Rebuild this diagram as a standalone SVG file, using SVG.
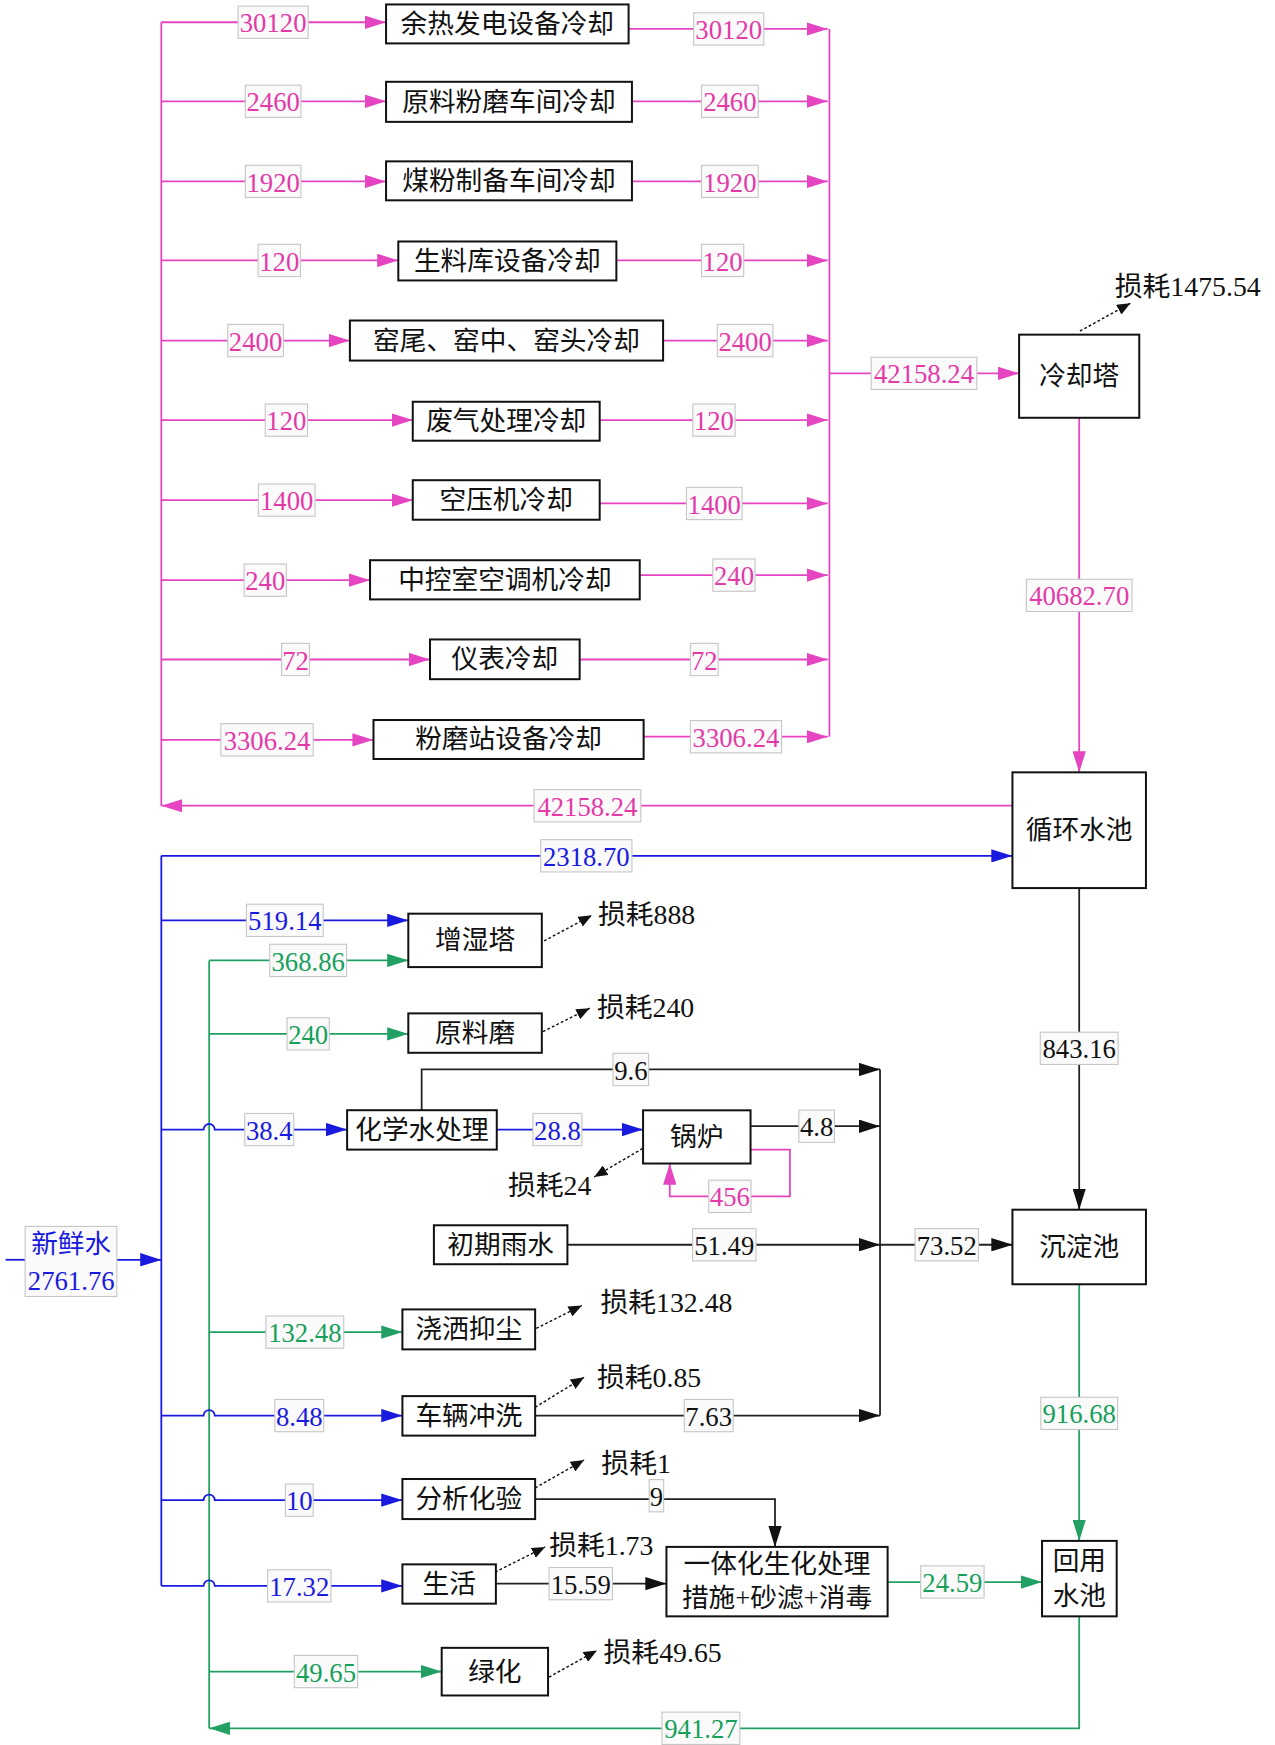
<svg xmlns="http://www.w3.org/2000/svg" width="1275" height="1745" viewBox="0 0 1275 1745">
<defs>
<style>
.nb{fill:#fff;stroke:#111;stroke-width:1.8}
.nt{font-family:"Liberation Serif","Noto Sans CJK SC",serif;font-size:24px;fill:#111;text-anchor:middle;dominant-baseline:central}
.lb{fill:#fafafa;stroke:#c6c6c6;stroke-width:1}
.lt{font-family:"Liberation Serif","Noto Sans CJK SC",serif;font-size:24px;text-anchor:middle;dominant-baseline:central}
.ls{font-family:"Liberation Serif","Noto Sans CJK SC",serif;font-size:25px;fill:#111;dominant-baseline:central}
.c{fill:none;stroke-width:1.6}
.pk{stroke:#e545c0}.bl{stroke:#1a1adf}.gr{stroke:#22a064}.bk{stroke:#222}
.dt{fill:none;stroke:#111;stroke-width:1.3;stroke-dasharray:2.5 2}
.tpk{fill:#e33aa8}.tbl{fill:#1a1adf}.tgr{fill:#16a05c}.tbk{fill:#111}
</style>
<marker id="ap" markerUnits="userSpaceOnUse" markerWidth="19" markerHeight="12" refX="19" refY="6" orient="auto" viewBox="0 0 19 12"><path d="M0,0 L19,6 L0,12 z" fill="#e545c0"/></marker>
<marker id="ab" markerUnits="userSpaceOnUse" markerWidth="19" markerHeight="12" refX="19" refY="6" orient="auto" viewBox="0 0 19 12"><path d="M0,0 L19,6 L0,12 z" fill="#1a1adf"/></marker>
<marker id="ag" markerUnits="userSpaceOnUse" markerWidth="19" markerHeight="12" refX="19" refY="6" orient="auto" viewBox="0 0 19 12"><path d="M0,0 L19,6 L0,12 z" fill="#22a064"/></marker>
<marker id="ak" markerUnits="userSpaceOnUse" markerWidth="19" markerHeight="12" refX="19" refY="6" orient="auto" viewBox="0 0 19 12"><path d="M0,0 L19,6 L0,12 z" fill="#111"/></marker>
<marker id="ad" markerUnits="userSpaceOnUse" markerWidth="12" markerHeight="10" refX="12" refY="5" orient="auto" viewBox="0 0 12 10"><path d="M0,0 L12,5 L0,10 z" fill="#111"/></marker>
</defs>
<rect width="1275" height="1745" fill="#fff"/>
<g transform="scale(1.11257,1.11288)">
<g id="connectors">
<path class="c pk" d="M145,20 V724"/>
<path class="c pk" d="M745.5,26 V662"/>
<path class="c pk" d="M145,20 H347" marker-end="url(#ap)"/>
<path class="c pk" d="M565,26 H744" marker-end="url(#ap)"/>
<path class="c pk" d="M145,91 H347" marker-end="url(#ap)"/>
<path class="c pk" d="M568,91 H744" marker-end="url(#ap)"/>
<path class="c pk" d="M145,163 H347" marker-end="url(#ap)"/>
<path class="c pk" d="M568,163 H744" marker-end="url(#ap)"/>
<path class="c pk" d="M145,234 H358" marker-end="url(#ap)"/>
<path class="c pk" d="M554,234 H744" marker-end="url(#ap)"/>
<path class="c pk" d="M145,306 H314.5" marker-end="url(#ap)"/>
<path class="c pk" d="M596,306 H744" marker-end="url(#ap)"/>
<path class="c pk" d="M145,377.5 H371" marker-end="url(#ap)"/>
<path class="c pk" d="M539,377.5 H744" marker-end="url(#ap)"/>
<path class="c pk" d="M145,449.4 H371" marker-end="url(#ap)"/>
<path class="c pk" d="M539,452.4 H744" marker-end="url(#ap)"/>
<path class="c pk" d="M145,521.3 H332.6" marker-end="url(#ap)"/>
<path class="c pk" d="M575,516.8 H744" marker-end="url(#ap)"/>
<path class="c pk" d="M145,592.6 H386.5" marker-end="url(#ap)"/>
<path class="c pk" d="M521,592.6 H744" marker-end="url(#ap)"/>
<path class="c pk" d="M145,664.8 H335.7" marker-end="url(#ap)"/>
<path class="c pk" d="M578.5,662 H744" marker-end="url(#ap)"/>
<path class="c pk" d="M745.5,335.5 H916" marker-end="url(#ap)"/>
<path class="c pk" d="M970,375.4 V694" marker-end="url(#ap)"/>
<path class="c pk" d="M910,724 H145" marker-end="url(#ap)"/>
<path class="dt" d="M970.7,297.5 L1016,272.5" marker-end="url(#ad)"/>
<path class="c bl" d="M145,769 H910" marker-end="url(#ab)"/>
<path class="c bk" d="M970,798 V1087" marker-end="url(#ak)"/>
<path class="c bl" d="M5,1132 H22.6"/>
<path class="c bl" d="M105,1132 H145" marker-end="url(#ab)"/>
<path class="c bl" d="M145,769 V1425"/>
<path class="c gr" d="M188,863 V1553"/>
<path class="c bl" d="M145,827 H367" marker-end="url(#ab)"/>
<path class="c bl" d="M145,1015 H183 A5,5 0 0 1 193,1015 H312" marker-end="url(#ab)"/>
<path class="c bl" d="M145,1272 H183 A5,5 0 0 1 193,1272 H361.7" marker-end="url(#ab)"/>
<path class="c bl" d="M145,1348 H183 A5,5 0 0 1 193,1348 H361.7" marker-end="url(#ab)"/>
<path class="c bl" d="M145,1425 H183 A5,5 0 0 1 193,1425 H361.7" marker-end="url(#ab)"/>
<path class="c gr" d="M188,863 H367" marker-end="url(#ag)"/>
<path class="c gr" d="M188,929 H367" marker-end="url(#ag)"/>
<path class="c gr" d="M188,1197 H361.7" marker-end="url(#ag)"/>
<path class="c gr" d="M188,1502 H397" marker-end="url(#ag)"/>
<path class="c gr" d="M970,1452.4 V1553 H188" marker-end="url(#ag)"/>
<path class="c bk" d="M791,961 V1272"/>
<path class="c bk" d="M379,997.6 V961 H791" marker-end="url(#ak)"/>
<path class="c bl" d="M446.5,1015 H578" marker-end="url(#ab)"/>
<path class="c bk" d="M674.6,1012 H791" marker-end="url(#ak)"/>
<path class="c pk" d="M674.6,1033 H710 V1075 H602 V1045.5" marker-end="url(#ap)"/>
<path class="c bk" d="M510,1118.5 H791" marker-end="url(#ak)"/>
<path class="c bk" d="M791,1118.5 H910" marker-end="url(#ak)"/>
<path class="c bk" d="M481,1272 H791" marker-end="url(#ak)"/>
<path class="c bk" d="M481,1347 H696.6 V1390" marker-end="url(#ak)"/>
<path class="c bk" d="M445.7,1423 H599" marker-end="url(#ak)"/>
<path class="c gr" d="M797.8,1421.6 H936.6" marker-end="url(#ag)"/>
<path class="c gr" d="M970,1154 V1384.6" marker-end="url(#ag)"/>
<path class="dt" d="M577.6,1032 L534,1057.6" marker-end="url(#ad)"/>
<path class="dt" d="M489,845.5 L532,822.5" marker-end="url(#ad)"/>
<path class="dt" d="M488,927 L530,906" marker-end="url(#ad)"/>
<path class="dt" d="M482,1193.6 L523,1173" marker-end="url(#ad)"/>
<path class="dt" d="M481,1264.5 L525,1237.6" marker-end="url(#ad)"/>
<path class="dt" d="M481,1337 L525,1312" marker-end="url(#ad)"/>
<path class="dt" d="M445,1412.6 L490,1390" marker-end="url(#ad)"/>
<path class="dt" d="M493.4,1507 L536.6,1483" marker-end="url(#ad)"/>
</g>
<g id="labels">
<rect class="lb" x="214" y="5.5" width="63" height="29"/><text class="lt tpk" x="245.5" y="21">30120</text>
<rect class="lb" x="623.5" y="11.5" width="63" height="29"/><text class="lt tpk" x="655" y="27">30120</text>
<rect class="lb" x="220.5" y="76.5" width="50" height="29"/><text class="lt tpk" x="245.5" y="92">2460</text>
<rect class="lb" x="630.5" y="76.5" width="51" height="29"/><text class="lt tpk" x="656" y="92">2460</text>
<rect class="lb" x="220.5" y="148.5" width="50" height="29"/><text class="lt tpk" x="245.5" y="164">1920</text>
<rect class="lb" x="630.5" y="148.5" width="51" height="29"/><text class="lt tpk" x="656" y="164">1920</text>
<rect class="lb" x="232" y="219.5" width="38" height="29"/><text class="lt tpk" x="251" y="235">120</text>
<rect class="lb" x="630.5" y="219.5" width="38" height="29"/><text class="lt tpk" x="649.5" y="235">120</text>
<rect class="lb" x="204.7" y="291.5" width="50" height="29"/><text class="lt tpk" x="229.7" y="307">2400</text>
<rect class="lb" x="644.7" y="291.5" width="50" height="29"/><text class="lt tpk" x="669.7" y="307">2400</text>
<rect class="lb" x="238.4" y="363" width="38" height="29"/><text class="lt tpk" x="257.4" y="378.5">120</text>
<rect class="lb" x="622.7" y="363" width="38" height="29"/><text class="lt tpk" x="641.7" y="378.5">120</text>
<rect class="lb" x="232.2" y="434.9" width="51" height="29"/><text class="lt tpk" x="257.7" y="450.4">1400</text>
<rect class="lb" x="617" y="437.9" width="50" height="29"/><text class="lt tpk" x="642" y="453.4">1400</text>
<rect class="lb" x="219.4" y="506.8" width="38" height="29"/><text class="lt tpk" x="238.4" y="522.3">240</text>
<rect class="lb" x="640.7" y="502.3" width="38" height="29"/><text class="lt tpk" x="659.7" y="517.8">240</text>
<rect class="lb" x="253.1" y="578.1" width="25" height="29"/><text class="lt tpk" x="265.6" y="593.6">72</text>
<rect class="lb" x="620.5" y="578.1" width="25" height="29"/><text class="lt tpk" x="633" y="593.6">72</text>
<rect class="lb" x="198.5" y="650.3" width="83" height="29"/><text class="lt tpk" x="240" y="665.8">3306.24</text>
<rect class="lb" x="620.5" y="647.5" width="82" height="29"/><text class="lt tpk" x="661.5" y="663">3306.24</text>
<rect class="lb" x="783" y="321" width="95" height="29"/><text class="lt tpk" x="830.5" y="336.5">42158.24</text>
<rect class="lb" x="922.5" y="520.5" width="95" height="29"/><text class="lt tpk" x="970" y="536">40682.70</text>
<rect class="lb" x="480" y="709.5" width="96" height="29"/><text class="lt tpk" x="528" y="725">42158.24</text>
<rect class="lb" x="486" y="754.5" width="82" height="29"/><text class="lt tbl" x="527" y="770">2318.70</text>
<rect class="lb" x="935" y="927.5" width="70" height="29"/><text class="lt tbk" x="970" y="943">843.16</text>
<rect class="lb" x="221.5" y="812.5" width="69" height="29"/><text class="lt tbl" x="256" y="828">519.14</text>
<rect class="lb" x="242.5" y="848.5" width="69" height="29"/><text class="lt tgr" x="277" y="864">368.86</text>
<rect class="lb" x="258" y="914.5" width="38" height="29"/><text class="lt tgr" x="277" y="930">240</text>
<rect class="lb" x="220" y="1000.5" width="44" height="29"/><text class="lt tbl" x="242" y="1016">38.4</text>
<rect class="lb" x="551" y="946.5" width="32" height="29"/><text class="lt tbk" x="567" y="962">9.6</text>
<rect class="lb" x="479" y="1000.5" width="44" height="29"/><text class="lt tbl" x="501" y="1016">28.8</text>
<rect class="lb" x="718" y="997.5" width="32" height="29"/><text class="lt tbk" x="734" y="1013">4.8</text>
<rect class="lb" x="637" y="1060.5" width="38" height="29"/><text class="lt tpk" x="656" y="1076">456</text>
<rect class="lb" x="622.5" y="1104" width="57" height="29"/><text class="lt tbk" x="651" y="1119.5">51.49</text>
<rect class="lb" x="822.5" y="1104" width="57" height="29"/><text class="lt tbk" x="851" y="1119.5">73.52</text>
<rect class="lb" x="239" y="1182.5" width="70" height="29"/><text class="lt tgr" x="274" y="1198">132.48</text>
<rect class="lb" x="247" y="1257.5" width="44" height="29"/><text class="lt tbl" x="269" y="1273">8.48</text>
<rect class="lb" x="615" y="1257.5" width="44" height="29"/><text class="lt tbk" x="637" y="1273">7.63</text>
<rect class="lb" x="256.5" y="1333.5" width="25" height="29"/><text class="lt tbl" x="269" y="1349">10</text>
<rect class="lb" x="583.5" y="1329.5" width="13" height="29"/><text class="lt tbk" x="590" y="1345">9</text>
<rect class="lb" x="240.5" y="1410.5" width="57" height="29"/><text class="lt tbl" x="269" y="1426">17.32</text>
<rect class="lb" x="493.5" y="1408.5" width="57" height="29"/><text class="lt tbk" x="522" y="1424">15.59</text>
<rect class="lb" x="827.5" y="1407" width="57" height="29"/><text class="lt tgr" x="856" y="1422.5">24.59</text>
<rect class="lb" x="935.5" y="1255.5" width="69" height="29"/><text class="lt tgr" x="970" y="1271">916.68</text>
<rect class="lb" x="264.5" y="1487.5" width="57" height="29"/><text class="lt tgr" x="293" y="1503">49.65</text>
<rect class="lb" x="595" y="1538.5" width="70" height="29"/><text class="lt tgr" x="630" y="1554">941.27</text>
<text class="ls" x="1002" y="257">损耗1475.54</text>
<text class="ls" x="537.5" y="822">损耗888</text>
<text class="ls" x="536.6" y="905">损耗240</text>
<text class="ls" x="456.6" y="1065">损耗24</text>
<text class="ls" x="539.7" y="1170">损耗132.48</text>
<text class="ls" x="536.6" y="1237.7">损耗0.85</text>
<text class="ls" x="540.5" y="1315">损耗1</text>
<text class="ls" x="493.6" y="1388.6">损耗1.73</text>
<text class="ls" x="542.5" y="1484.5">损耗49.65</text>
</g>
<g id="n-fresh"><rect class="lb" x="22.6" y="1102" width="82.4" height="63"/><text class="nt tbl" x="64" y="1118">新鲜水</text><text class="lt tbl" x="64" y="1151">2761.76</text></g>
<g id="n1"><rect class="nb" x="347" y="4" width="218" height="35"/><text class="nt" x="456" y="21.5">余热发电设备冷却</text></g>
<g id="n2"><rect class="nb" x="347" y="73.5" width="221" height="36"/><text class="nt" x="457.5" y="91.5">原料粉磨车间冷却</text></g>
<g id="n3"><rect class="nb" x="347" y="145" width="221" height="35"/><text class="nt" x="457.5" y="162.5">煤粉制备车间冷却</text></g>
<g id="n4"><rect class="nb" x="358" y="217" width="196" height="35"/><text class="nt" x="456" y="234.5">生料库设备冷却</text></g>
<g id="n5"><rect class="nb" x="314.5" y="288" width="281.5" height="36"/><text class="nt" x="455.25" y="306">窑尾、窑中、窑头冷却</text></g>
<g id="n6"><rect class="nb" x="371" y="361" width="168" height="35"/><text class="nt" x="455" y="378.5">废气处理冷却</text></g>
<g id="n7"><rect class="nb" x="371" y="431.5" width="168" height="35.5"/><text class="nt" x="455" y="449.25">空压机冷却</text></g>
<g id="n8"><rect class="nb" x="332.6" y="503.4" width="242.4" height="35.2"/><text class="nt" x="453.8" y="521">中控室空调机冷却</text></g>
<g id="n9"><rect class="nb" x="386.5" y="574.6" width="134.5" height="35.7"/><text class="nt" x="453.75" y="592.45">仪表冷却</text></g>
<g id="n10"><rect class="nb" x="335.7" y="647" width="242.8" height="35"/><text class="nt" x="457.1" y="664.5">粉磨站设备冷却</text></g>
<g id="n-tower"><rect class="nb" x="916" y="300.7" width="108" height="74.7"/><text class="nt" x="970" y="338">冷却塔</text></g>
<g id="n-circ"><rect class="nb" x="910" y="694" width="120" height="104"/><text class="nt" x="970" y="746">循环水池</text></g>
<g id="n-settle"><rect class="nb" x="910" y="1087" width="120" height="67"/><text class="nt" x="970" y="1120.5">沉淀池</text></g>
<g id="n-humid"><rect class="nb" x="367" y="821" width="120" height="48"/><text class="nt" x="427" y="845">增湿塔</text></g>
<g id="n-mill"><rect class="nb" x="367" y="910.6" width="120" height="35.4"/><text class="nt" x="427" y="928.3">原料磨</text></g>
<g id="n-chem"><rect class="nb" x="312" y="997.6" width="134.5" height="35.4"/><text class="nt" x="379.25" y="1015.3">化学水处理</text></g>
<g id="n-boiler"><rect class="nb" x="578" y="997.7" width="96.6" height="47.8"/><text class="nt" x="626.3" y="1021.6">锅炉</text></g>
<g id="n-rain"><rect class="nb" x="390" y="1101" width="120" height="35"/><text class="nt" x="450" y="1118.5">初期雨水</text></g>
<g id="n-spray"><rect class="nb" x="361.7" y="1176.6" width="119.3" height="35.9"/><text class="nt" x="421.35" y="1194.55">浇洒抑尘</text></g>
<g id="n-wash"><rect class="nb" x="361.7" y="1254.5" width="119.3" height="35.5"/><text class="nt" x="421.35" y="1272.25">车辆冲洗</text></g>
<g id="n-lab"><rect class="nb" x="361.7" y="1329" width="119.3" height="36"/><text class="nt" x="421.35" y="1347">分析化验</text></g>
<g id="n-life"><rect class="nb" x="361.7" y="1405.7" width="84" height="35.3"/><text class="nt" x="403.7" y="1423.35">生活</text></g>
<g id="n-treat"><rect class="nb" x="599" y="1390" width="198.8" height="62.4"/><text class="nt" x="698.4" y="1405">一体化生化处理</text><text class="nt" x="698.4" y="1436">措施+砂滤+消毒</text></g>
<g id="n-green"><rect class="nb" x="397" y="1480.7" width="95.6" height="42.8"/><text class="nt" x="444.8" y="1502.1">绿化</text></g>
<g id="n-reuse"><rect class="nb" x="936.6" y="1384.6" width="67.1" height="67.8"/><text class="nt" x="970.15" y="1402.5">回用</text><text class="nt" x="970.15" y="1434">水池</text></g>
</g>
</svg>
